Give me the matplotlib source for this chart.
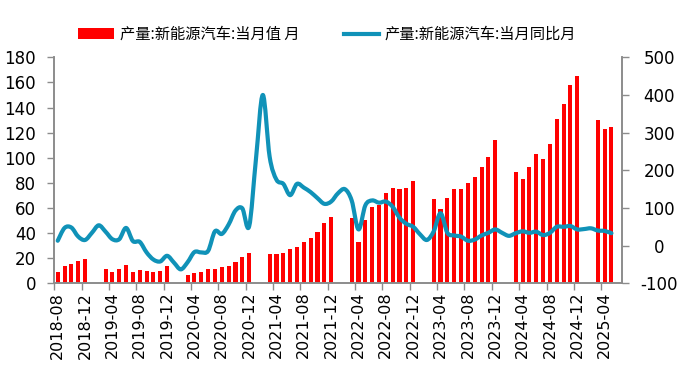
import numpy as np
import pandas as pd
import matplotlib
matplotlib.use("Agg")
import matplotlib.pyplot as plt
from matplotlib.path import Path
from matplotlib.patches import PathPatch, Patch
from matplotlib.lines import Line2D
from matplotlib.font_manager import FontProperties

plt.rcParams['font.family'] = ['DejaVu Sans', 'Noto Sans CJK SC']

# ---------------- data ----------------
months = pd.period_range('2018-08', '2025-06', freq='M')
month_labels = [p.strftime('%Y-%m') for p in months]

nan = np.nan
production = [
    9.0, 13.8, 15.4, 17.8, 19.4,                                        # 2018-08..12
    nan, nan, 11.4, 9.2, 11.4, 14.6, 9.2, 10.6, 10.0, 9.2, 10.0, 13.8,  # 2019
    nan, nan, 6.6, 8.2, 9.0, 11.4, 11.4, 13.0, 13.8, 17.0, 21.0, 24.2,  # 2020
    nan, nan, 23.4, 23.4, 24.2, 27.4, 29.0, 32.9, 36.1, 40.9, 48.1, 52.9,  # 2021
    nan, nan, 52.1, 32.9, 50.5, 60.8, 62.4, 72.0, 76.0, 75.2, 76.0, 81.5,  # 2022
    nan, nan, 67.2, 59.2, 68.0, 75.2, 75.2, 79.9, 84.7, 92.7, 100.7, 114.2,  # 2023
    nan, nan, 88.7, 83.1, 92.7, 103.1, 99.1, 111.0, 130.9, 142.9, 158.0, 165.2,  # 2024
    nan, nan, 130.1, 123.0, 124.6, nan,                                  # 2025
]
yoy = [
    13, 47, 48, 24, 15,                                   # 2018-08..12
    34, 54, 37, 17, 17, 47, 12, 10, -18, -37, -42, -27,   # 2019
    -45, -63, -44, -17, -18, -14, 38, 31, 56, 93, 99, 51,  # 2020
    230, 400, 236, 175, 164, 134, 164, 154, 142, 126, 111, 117,  # 2021
    139, 150, 120, 43, 107, 120, 114, 117, 103, 74, 58, 50,  # 2022
    30, 15, 38, 86, 34, 27, 24, 13, 16, 27, 34, 43,       # 2023
    34, 26, 33, 38, 34, 37, 28, 34, 50, 50, 52, 43,       # 2024
    44, 46, 40, 39, 33, nan,                              # 2025
]
bar_label = '产量:新能源汽车:当月值 月'
line_label = '产量:新能源汽车:当月同比月'

left_ticks = list(range(0, 181, 20))
right_ticks = list(range(-100, 501, 100))

# ---------------- style ----------------
RED = '#FF0000'
TEAL = '#1092B8'
GRAY = '#8C8C8C'

fig = plt.figure(figsize=(6.93, 3.65), dpi=100)
ax = fig.add_axes([54.3 / 693, 1 - 283.3 / 365, (621.7 - 54.3) / 693, (283.3 - 57.3) / 365])
ax2 = ax.twinx()

x = np.arange(len(months))
ax.bar(x, production, width=0.6, color=RED, zorder=2)

# smooth line (Excel-like Bezier smoothing through the data points)
yv = np.array(yoy, dtype=float)
ok = ~np.isnan(yv)
px, py = x[ok].astype(float), yv[ok]
pts = np.column_stack([px, py])
n = len(pts)
verts = [pts[0]]
codes = [Path.MOVETO]
for i in range(n - 1):
    p0 = pts[i - 1] if i > 0 else pts[i]
    p1 = pts[i]
    p2 = pts[i + 1]
    p3 = pts[i + 2] if i + 2 < n else pts[i + 1]
    c1 = p1 + (p2 - p0) / 6.0
    c2 = p2 - (p3 - p1) / 6.0
    verts += [c1, c2, p2]
    codes += [Path.CURVE4] * 3
patch = PathPatch(Path(verts, codes), fill=False, edgecolor=TEAL, lw=3.0,
                  capstyle='round', joinstyle='round', zorder=3)
ax2.add_patch(patch)

# axes limits
ax.set_xlim(-0.5, len(months) - 0.5)
ax.set_ylim(0, 180)
ax2.set_ylim(-100, 500)

# x ticks: labels at category centres, marks at boundaries
label_pos = x[::4]
ax.set_xticks(label_pos)
ax.set_xticklabels([month_labels[i] for i in label_pos], rotation=90, fontsize=11.5)
ax.set_xticks(np.arange(-0.5, len(months) - 1, 4), minor=True)
ax.tick_params(axis='x', which='major', length=0, pad=6)
ax.tick_params(axis='x', which='minor', length=5, width=1, color=GRAY, direction='out')

ax.set_yticks(left_ticks)
ax.set_yticklabels([str(v) for v in left_ticks], fontsize=12)
ax.tick_params(axis='y', length=5, width=1, color=GRAY, direction='out', pad=8)

ax2.set_yticks(right_ticks)
ax2.set_yticklabels([str(v) for v in right_ticks], fontsize=12)
ax2.tick_params(axis='y', length=5, width=1, color=GRAY, direction='out', pad=22)
for lab in ax2.get_yticklabels():
    lab.set_horizontalalignment('center')

for a in (ax, ax2):
    a.spines['top'].set_visible(False)
    for s in ('left', 'right', 'bottom'):
        a.spines[s].set_color(GRAY)
        a.spines[s].set_linewidth(1.2)
ax.patch.set_visible(False)

handles = [Patch(facecolor=RED, edgecolor='none'),
           Line2D([0], [0], color=TEAL, lw=3)]
fig.legend(handles, [bar_label, line_label], loc='center',
           bbox_to_anchor=(327.4 / 693, 1 - 34.5 / 365), ncol=2, frameon=False,
           prop=FontProperties(family=['Noto Sans CJK SC', 'DejaVu Sans'], size=11),
           handlelength=2.3, handleheight=0.75, handletextpad=0.4, columnspacing=2.9,
           borderpad=0, borderaxespad=0)

fig.savefig('out.png', dpi=100)
